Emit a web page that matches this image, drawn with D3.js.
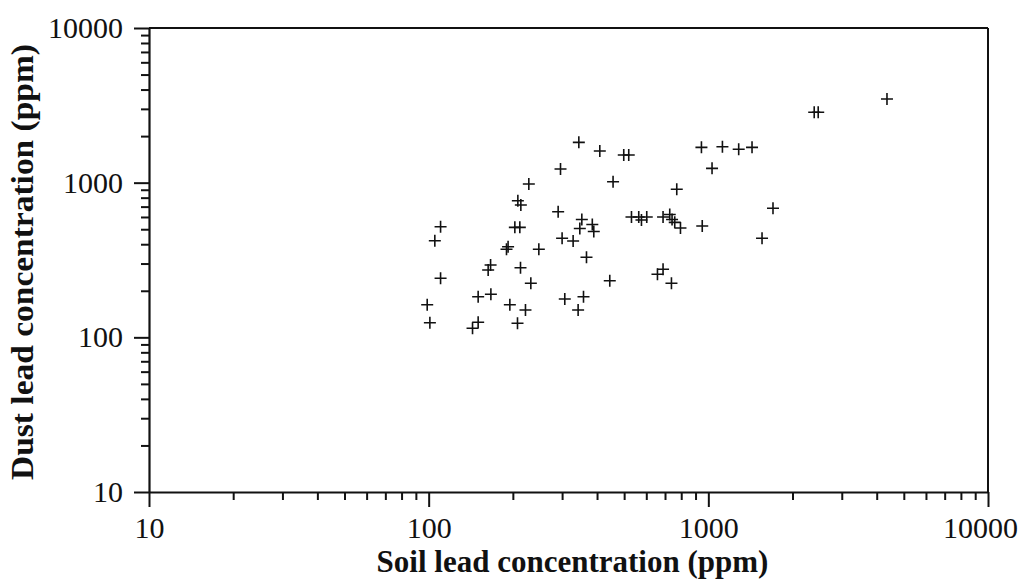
<!DOCTYPE html>
<html>
<head>
<meta charset="utf-8">
<script src="https://cdn.jsdelivr.net/npm/d3@7"></script>
<style>
  html, body { margin: 0; padding: 0; background: #fff; }
  svg { display: block; }
  text { font-family: "Liberation Serif", "Times New Roman", serif; fill: #111; }
</style>
</head>
<body>
<svg id="chart" width="1031" height="588"></svg>
<script>
// Soil lead (x, ppm) and dust lead (y, ppm)
const soilLead = [
  98.8, 101, 105.2, 110.3, 110.3, 143.5, 150.3, 150.3, 166.9, 166.5,
  163.2, 189.8, 192.3, 195.1, 207.8, 213, 208.4, 213.6, 203.3, 211.8,
  221.9, 228.1, 231.9, 247.7, 290.4, 296.1, 300, 306.7, 328.5, 342.3,
  357.8, 366.7, 344.3, 352.9, 347.1, 384.7, 389.4, 409.2, 498.4, 519.3,
  456.4, 444.2, 531.1, 563.9, 576.6, 602.3, 657.8, 688.8, 738.1, 688.8,
  727.8, 741.8, 758.4, 795, 771.1, 951.1, 944.8, 1031, 1123, 1284,
  1433, 1556, 1703, 2391, 2471, 4353
];
const dustLead = [
  162.5, 124.3, 421.6, 519, 240.8, 114.4, 125.1, 183.1, 189.8, 293.6,
  272.5, 370.9, 385.5, 162.5, 123.2, 282, 764, 717, 514, 514,
  150.2, 980, 223.6, 370.9, 649, 1226, 436.9, 176.9, 419.7, 150.2,
  183.1, 329.2, 1823, 577.9, 505, 536.3, 483.2, 1602, 1509, 1509,
  1014, 232.4, 600, 600, 573.6, 600, 255.6, 275.4, 223.6, 600,
  622.6, 577.9, 554, 509, 905.8, 524.5, 1692, 1238, 1708, 1643,
  1692, 436.9, 683, 2850, 2850, 3474
];
const majorTicks = [10, 100, 1000, 10000];
const tickLabels = ["10", "100", "1000", "10000"];
const xTitle = "Soil lead concentration (ppm)";
const yTitle = "Dust lead concentration (ppm)";

const points = soilLead.map((s, i) => ({ x: s, y: dustLead[i] }));

const svg = d3.select("#chart");
const pLeft = 149, pRight = 988, pTop = 28, pBottom = 492;

const x = d3.scaleLog().domain([10, 10000]).range([pLeft, pRight]);
const y = d3.scaleLog().domain([10, 10000]).range([pBottom, pTop]);

const minorTicks = [];
[10, 100, 1000].forEach(d => { for (let k = 2; k <= 9; k++) minorTicks.push(d * k); });

const fmt = d => tickLabels[majorTicks.indexOf(d)];

// frame (top & right)
svg.append("line").attr("x1", pLeft).attr("x2", pRight).attr("y1", pTop).attr("y2", pTop)
  .attr("stroke", "#111").attr("stroke-width", 2);
svg.append("line").attr("x1", pRight).attr("x2", pRight).attr("y1", pTop).attr("y2", pBottom)
  .attr("stroke", "#111").attr("stroke-width", 2);

// x axis: minor ticks
svg.append("g").attr("transform", `translate(0,${pBottom})`)
  .call(d3.axisBottom(x).tickValues(minorTicks).tickSize(8).tickFormat(""))
  .call(g => g.select(".domain").remove())
  .call(g => g.selectAll("line").attr("stroke", "#111").attr("stroke-width", 2));
// x axis: major ticks + labels
const gx = svg.append("g").attr("transform", `translate(0,${pBottom})`)
  .call(d3.axisBottom(x).tickValues(majorTicks).tickSize(15).tickPadding(10).tickFormat(fmt).tickSizeOuter(0));
gx.select(".domain").attr("stroke", "#111").attr("stroke-width", 2.2);
gx.selectAll("line").attr("stroke", "#111").attr("stroke-width", 2);
gx.selectAll("text").attr("font-size", 30).attr("font-family", "Liberation Serif").attr("fill", "#111");
gx.selectAll(".tick").filter(d => d === 10000).select("text").attr("x", -8);

// y axis: minor ticks
svg.append("g").attr("transform", `translate(${pLeft},0)`)
  .call(d3.axisLeft(y).tickValues(minorTicks).tickSize(8).tickFormat(""))
  .call(g => g.select(".domain").remove())
  .call(g => g.selectAll("line").attr("stroke", "#111").attr("stroke-width", 2));
// y axis: major ticks + labels
const gy = svg.append("g").attr("transform", `translate(${pLeft},0)`)
  .call(d3.axisLeft(y).tickValues(majorTicks).tickSize(15).tickPadding(11).tickFormat(fmt).tickSizeOuter(0));
gy.select(".domain").attr("stroke", "#111").attr("stroke-width", 2.2);
gy.selectAll("line").attr("stroke", "#111").attr("stroke-width", 2);
gy.selectAll("text").attr("font-size", 30).attr("font-family", "Liberation Serif").attr("fill", "#111");

// crosses
const half = 6;
const marks = svg.append("g").attr("stroke", "#111").attr("stroke-width", 1.6);
marks.selectAll("path").data(points).enter().append("path")
  .attr("d", d => {
    const cx = x(d.x), cy = y(d.y);
    return `M${cx - half},${cy}H${cx + half}M${cx},${cy - half}V${cy + half}`;
  });

// titles
svg.append("text")
  .attr("x", (pLeft + pRight) / 2 + 4).attr("y", 572)
  .attr("text-anchor", "middle")
  .attr("font-size", 31).attr("font-weight", "bold")
  .text(xTitle);

svg.append("text")
  .attr("transform", `translate(33,${(pTop + pBottom) / 2 + 2}) rotate(-90) scale(1.08,1)`)
  .attr("text-anchor", "middle")
  .attr("font-size", 31).attr("font-weight", "bold")
  .text(yTitle);
</script>
</body>
</html>
